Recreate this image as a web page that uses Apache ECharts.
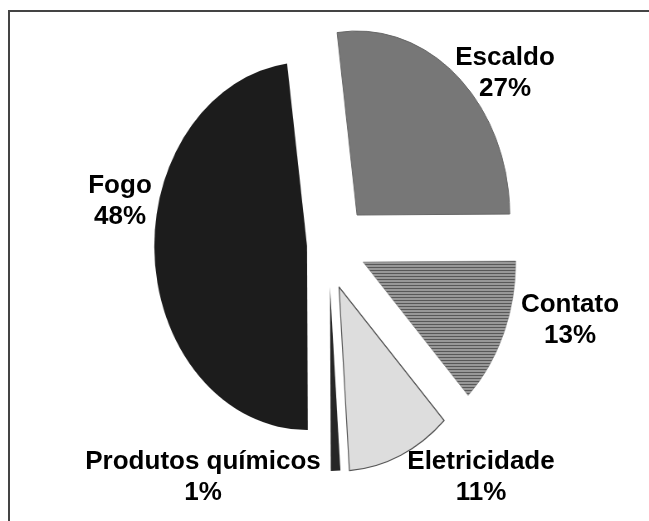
<!DOCTYPE html>
<html>
<head>
<meta charset="utf-8">
<script src="https://cdn.jsdelivr.net/npm/echarts@6/dist/echarts.min.js"></script>
<style>
  html, body { margin: 0; padding: 0; background: #ffffff; }
  #wrap { position: relative; width: 649px; height: 521px; overflow: hidden; background: #fff; }
  #frame { position: absolute; left: 8px; top: 10px; right: -10px; bottom: -10px;
           border-top: 2px solid #444; border-left: 2px solid #444; }
  #pie { position: absolute; left: 0; top: 0; width: 782px; height: 521px;
         transform: scaleX(0.83); transform-origin: 0 0; }
  #lab { position: absolute; left: 0; top: 0; width: 649px; height: 521px; }
</style>
</head>
<body>
<div id="wrap">
  <div id="frame"></div>
  <div id="pie"></div>
  <div id="lab"></div>
</div>
<script>
// ---- data ----
const categories = ['Escaldo', 'Contato', 'Eletricidade', 'Produtos químicos', 'Fogo'];
const values = [27, 13, 11, 1, 48];

// ---- styling / layout ----
const SX = 0.83;               // horizontal squeeze of the (elliptical) pie
const RADIUS = 184;
const START = 97.5;
// exploded position (apex on screen) of each slice
const apex = [[357, 215], [363, 262], [339, 287], [330, 287], [307, 246]];
// label block centres on screen
const labelPos = [[505, 73], [570, 320], [481, 477], [203, 477], [120, 201]];

function stripes() {
  const c = document.createElement('canvas');
  c.width = 6; c.height = 3;
  const g = c.getContext('2d');
  g.fillStyle = '#989898'; g.fillRect(0, 0, 6, 3);
  g.fillStyle = '#585858'; g.fillRect(0, 0, 6, 1);
  return c;
}
const fills = [
  { color: '#777777', borderColor: '#666666', borderWidth: 1 },
  { color: { image: stripes(), repeat: 'repeat' }, borderColor: '#777', borderWidth: 0.5 },
  { color: '#dddddd', borderColor: '#555555', borderWidth: 1.2 },
  { color: '#262626', borderWidth: 0 },
  { color: '#1c1c1c', borderWidth: 0 }
];

// ---- slices (one series per exploded slice) ----
const pieChart = echarts.init(document.getElementById('pie'), null, { renderer: 'canvas' });
const sliceSeries = categories.map((name, i) => ({
  type: 'pie',
  silent: true,
  startAngle: START,
  clockwise: true,
  radius: [0, RADIUS],
  center: [apex[i][0] / SX, apex[i][1]],
  label: { show: false },
  labelLine: { show: false },
  emphasis: { disabled: true },
  animation: false,
  data: categories.map((n, j) => ({
    name: n,
    value: values[j],
    itemStyle: j === i ? fills[i] : { color: 'rgba(0,0,0,0)', borderWidth: 0 }
  }))
}));
pieChart.setOption({ backgroundColor: 'transparent', series: sliceSeries });

// ---- labels ----
const labChart = echarts.init(document.getElementById('lab'), null, { renderer: 'canvas' });
labChart.setOption({
  backgroundColor: 'transparent',
  series: [{
    type: 'pie',
    silent: true,
    startAngle: START,
    radius: [0, 150],
    center: [325, 250],
    avoidLabelOverlap: false,
    animation: false,
    itemStyle: { color: 'rgba(0,0,0,0)' },
    label: {
      show: true,
      position: 'outside',
      formatter: '{b}\n{c}%',
      fontFamily: '"Liberation Sans", Arial, sans-serif',
      fontWeight: 'bold',
      fontSize: 26,
      lineHeight: 31,
      color: '#000',
      align: 'center'
    },
    labelLine: { show: false },
    labelLayout: function (p) {
      const pos = labelPos[p.dataIndex];
      return { x: pos[0], y: pos[1], align: 'center', verticalAlign: 'middle' };
    },
    data: categories.map((n, j) => ({ name: n, value: values[j] }))
  }]
});
</script>
</body>
</html>
